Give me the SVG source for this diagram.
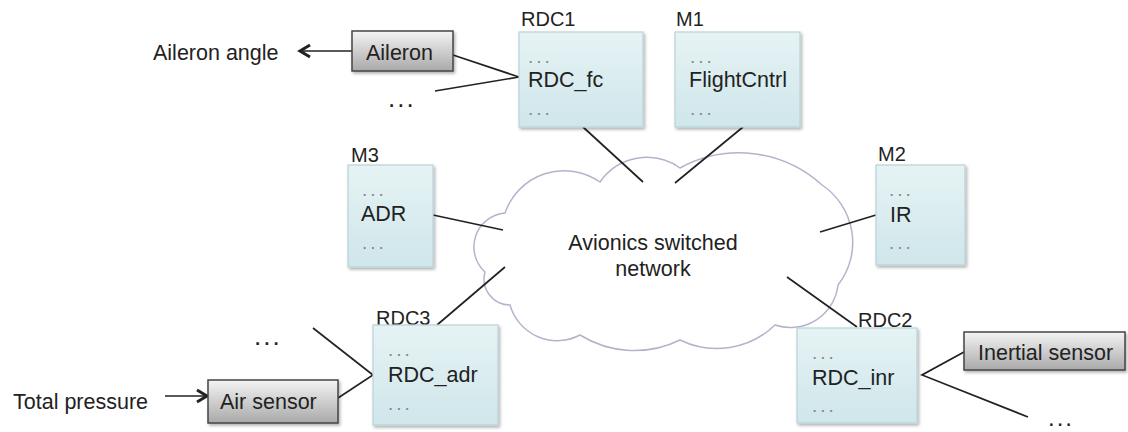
<svg xmlns="http://www.w3.org/2000/svg" width="1128" height="432" viewBox="0 0 1128 432">
<defs>
<linearGradient id="gNode" x1="0" y1="0" x2="0" y2="1">
<stop offset="0" stop-color="#e6f3f5"/>
<stop offset="1" stop-color="#cfe6ea"/>
</linearGradient>
<linearGradient id="gGray" x1="0" y1="0" x2="0" y2="1">
<stop offset="0" stop-color="#f4f4f4"/>
<stop offset="1" stop-color="#a9a9a9"/>
</linearGradient>
<filter id="sh" x="-10%" y="-10%" width="130%" height="130%">
<feDropShadow dx="1.5" dy="2" stdDeviation="1.5" flood-color="#000" flood-opacity="0.3"/>
</filter>
<marker id="chev" markerUnits="userSpaceOnUse" markerWidth="16" markerHeight="16" viewBox="0 0 16 16" refX="13" refY="8" orient="auto">
<path d="M3,2 L13,8 L3,14" fill="none" stroke="#222" stroke-width="3" stroke-linejoin="miter"/>
</marker>
</defs>
<style>
text{font-family:"Liberation Sans",Arial,Helvetica,sans-serif;fill:#222}
.t{font-size:21.5px}
.lbl{font-size:20px}
.d{font-size:19px;fill:#888;letter-spacing:3px}
.big{font-size:26px;letter-spacing:2px}
.node{fill:url(#gNode);stroke:#b9d2d8;stroke-width:1.2;filter:url(#sh)}
.gray{fill:url(#gGray);stroke:#444;stroke-width:1.5;filter:url(#sh)}
.c{stroke:#222;stroke-width:1.7;fill:none}
.cloud{fill:#fff;stroke:#b2b4cc;stroke-width:1.5}
</style>

<g id="cloud">
<path class="cloud" d="M485,272 A34,34 0 0 1 505,213 A62.5,62.5 0 0 1 600,182 A57,57 0 0 1 680,168 A123,123 0 0 1 822,185 A69,69 0 0 1 838,285 A48,48 0 0 1 775,325 A84,84 0 0 1 680,340 A103,103 0 0 1 580,335 A49,49 0 0 1 510,305 A26,26 0 0 1 485,272 Z"/>
<text class="t" x="653" y="250" text-anchor="middle">Avionics switched</text>
<text class="t" x="653" y="276" text-anchor="middle">network</text>
</g>

<g id="connectors">
<line class="c" x1="352" y1="51" x2="300" y2="51" marker-end="url(#chev)"/>
<line class="c" x1="165" y1="396" x2="207" y2="396" marker-end="url(#chev)"/>
<polyline class="c" points="453,55 519,77 435,91"/>
<line class="c" x1="583" y1="127" x2="643" y2="182"/>
<line class="c" x1="743" y1="127" x2="675" y2="183"/>
<line class="c" x1="433" y1="215" x2="503" y2="230"/>
<line class="c" x1="876" y1="215" x2="820" y2="232"/>
<line class="c" x1="505" y1="267" x2="437" y2="325"/>
<line class="c" x1="787" y1="277" x2="857" y2="327"/>
<polyline class="c" points="313,328 373,375 338,398"/>
<polyline class="c" points="964,352 922,375 1028,417"/>
</g>

<g id="aileron">
<rect class="gray" x="352" y="31" width="101" height="40"/>
<text class="t" x="366" y="60">Aileron</text>
</g>
<text class="t" x="153" y="60">Aileron angle</text>
<text class="big" x="388" y="107">...</text>

<g id="rdc1">
<text class="lbl" x="521" y="26">RDC1</text>
<rect class="node" x="519" y="32" width="124" height="95"/>
<text class="d" x="528" y="63">...</text>
<text class="t" x="528" y="87">RDC_fc</text>
<text class="d" x="528" y="115">...</text>
</g>

<g id="m1">
<text class="lbl" x="676" y="26">M1</text>
<rect class="node" x="675" y="32" width="125" height="95"/>
<text class="d" x="690" y="63">...</text>
<text class="t" x="689" y="87">FlightCntrl</text>
<text class="d" x="690" y="115">...</text>
</g>

<g id="m3">
<text class="lbl" x="351" y="162">M3</text>
<rect class="node" x="348" y="165" width="85" height="102"/>
<text class="d" x="362" y="196">...</text>
<text class="t" x="361" y="221">ADR</text>
<text class="d" x="362" y="249">...</text>
</g>

<g id="m2">
<text class="lbl" x="878" y="161">M2</text>
<rect class="node" x="876" y="165" width="89" height="100"/>
<text class="d" x="889" y="196">...</text>
<text class="t" x="890" y="222">IR</text>
<text class="d" x="889" y="249">...</text>
</g>

<g id="rdc3">
<text class="lbl" x="376" y="325">RDC3</text>
<rect class="node" x="373" y="325" width="125" height="100"/>
<text class="d" x="388" y="356">...</text>
<text class="t" x="388" y="382">RDC_adr</text>
<text class="d" x="388" y="410">...</text>
</g>

<g id="rdc2">
<text class="lbl" x="858" y="327">RDC2</text>
<rect class="node" x="797" y="328" width="120" height="95"/>
<text class="d" x="812" y="359">...</text>
<text class="t" x="812" y="385">RDC_inr</text>
<text class="d" x="812" y="412">...</text>
</g>

<g id="airsensor">
<rect class="gray" x="208" y="380" width="130" height="43"/>
<text class="t" x="220" y="409">Air sensor</text>
</g>
<text class="t" x="13" y="409">Total pressure</text>
<text class="big" x="254" y="345">...</text>

<g id="inertial">
<rect class="gray" x="964" y="332" width="161" height="38"/>
<text class="t" x="978" y="360">Inertial sensor</text>
</g>
<text class="big" x="1048" y="426" style="font-size:24px">...</text>
</svg>
